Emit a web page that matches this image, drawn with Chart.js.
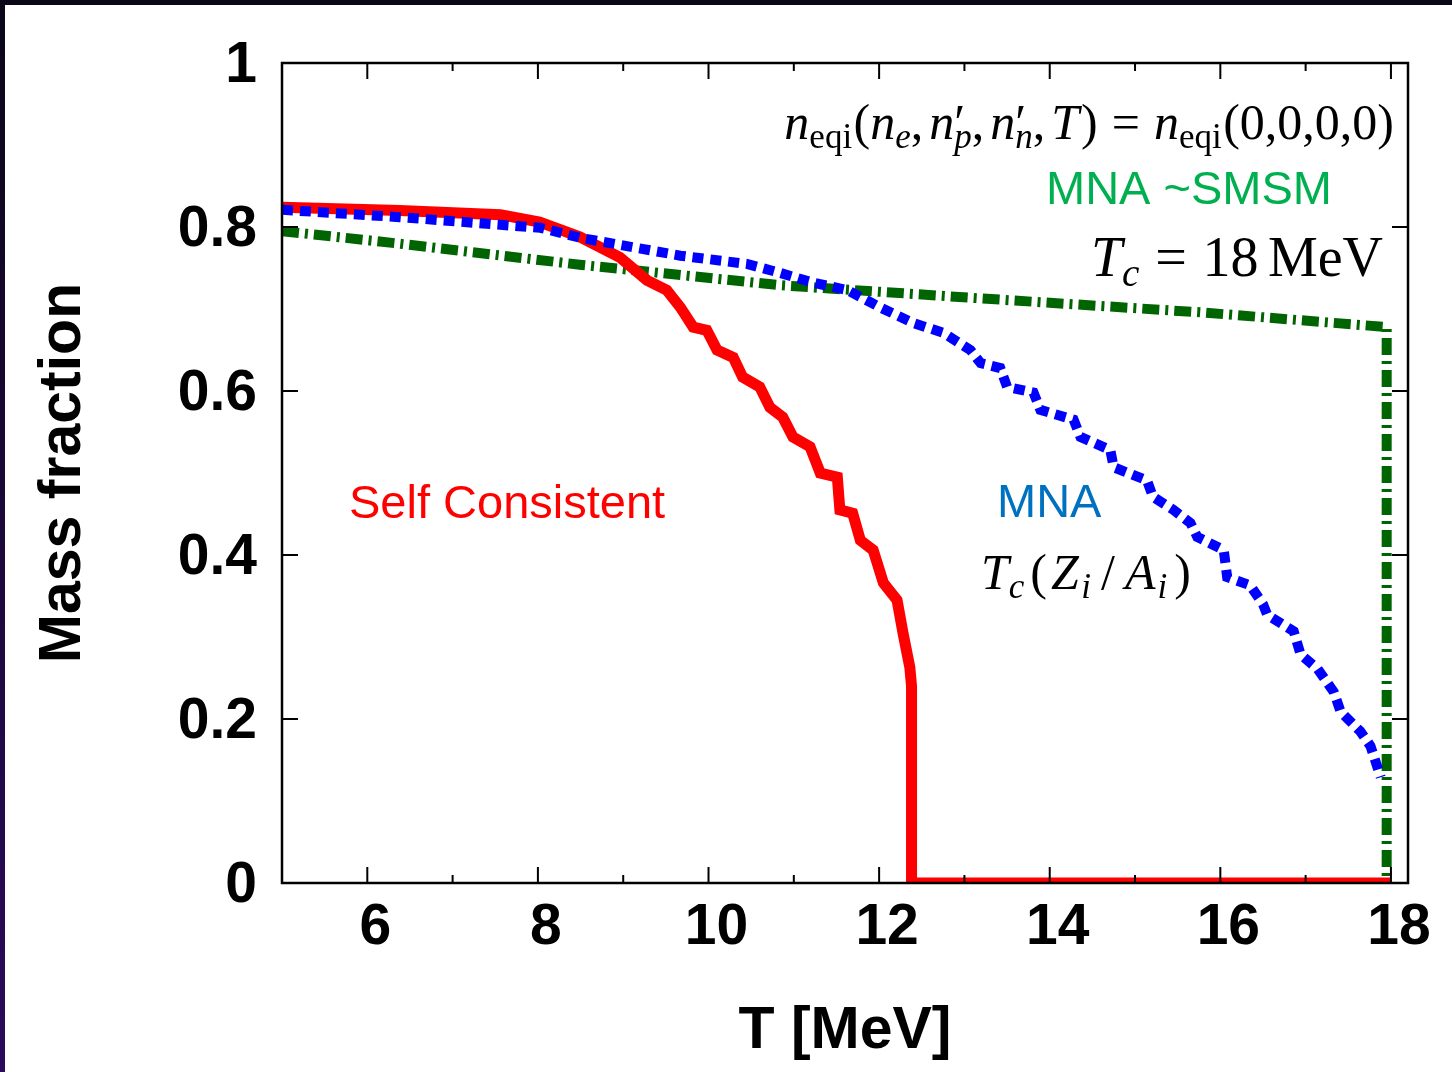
<!DOCTYPE html>
<html>
<head>
<meta charset="utf-8">
<script src="https://cdn.jsdelivr.net/npm/chart.js@4.4.1/dist/chart.umd.min.js"></script>
<style>
  html, body { margin: 0; padding: 0; background: #fff; }
  canvas { display: block; }
</style>
</head>
<body>
<canvas id="massFraction" width="1452" height="1072"></canvas>
<script>
// Self Consistent (red)
const selfT = [5.00, 6.38, 7.56, 8.02, 8.49, 8.96, 9.28, 9.51, 9.67, 9.82, 9.98, 10.10, 10.29, 10.40,
  10.60, 10.72, 10.87, 10.99, 11.19, 11.31, 11.51, 11.54, 11.69, 11.78, 11.93, 12.05, 12.21, 12.28,
  12.36, 12.38, 12.38, 18.00];
const selfY = [0.824, 0.820, 0.815, 0.806, 0.788, 0.763, 0.735, 0.723, 0.702, 0.678, 0.674, 0.650, 0.641, 0.617,
  0.605, 0.580, 0.568, 0.544, 0.532, 0.500, 0.495, 0.455, 0.451, 0.418, 0.406, 0.366, 0.345, 0.305,
  0.263, 0.240, 0, 0];

// MNA, Tc(Zi/Ai) (blue)
const mnaT = [5.00, 6.38, 8.03, 8.49, 9.67, 10.45, 10.84, 11.23, 11.63, 12.01, 12.40, 12.75, 13.07, 13.19,
  13.42, 13.50, 13.81, 13.89, 14.28, 14.36, 14.71, 14.75, 15.14, 15.21, 15.45, 15.65, 15.73, 16.04,
  16.08, 16.35, 16.50, 16.55, 16.86, 16.94, 17.14, 17.33, 17.41, 17.64, 17.76, 17.88];
const mnaY = [0.821, 0.812, 0.799, 0.787, 0.765, 0.755, 0.744, 0.732, 0.723, 0.702, 0.683, 0.671, 0.650, 0.634,
  0.628, 0.605, 0.598, 0.577, 0.565, 0.544, 0.528, 0.507, 0.491, 0.471, 0.455, 0.439, 0.422, 0.406,
  0.373, 0.363, 0.340, 0.327, 0.307, 0.279, 0.261, 0.233, 0.209, 0.185, 0.167, 0.129];

// MNA ~SMSM, Tc = 18 MeV (green)
const smsmT = [5.00, 6.35, 8.49, 10.84, 13.18, 15.76, 17.95, 17.95];
const smsmY = [0.795, 0.780, 0.754, 0.729, 0.713, 0.696, 0.678, 0];

const xTicks = [5, 6, 7, 8, 9, 10, 11, 12, 13, 14, 15, 16, 17, 18];
const yTicks = [0, 0.2, 0.4, 0.6, 0.8, 1];

const SANS = '"Liberation Sans", Arial, Helvetica, sans-serif';
const SERIF = '"Liberation Serif", "Times New Roman", serif';

const toPoints = (xs, ys) => xs.map((v, i) => ({ x: v, y: ys[i] }));

// small math-ish text: [text, kind]; kind = r, i, sub, subi, prime, gap
function mathText(ctx, parts, x, y, size, align) {
  const items = [];
  let w = 0, primeX = null;
  parts.forEach(([t, k]) => {
    if (k === 'gap') { w += t * size; primeX = null; return; }
    const small = k === 'sub' || k === 'subi';
    const s = small ? size * 0.7 : size;
    const font = (k === 'i' || k === 'subi' ? 'italic ' : '') + s + 'px ' + SERIF;
    ctx.font = font;
    const tw = ctx.measureText(t).width;
    const sx = small && primeX !== null ? primeX : w;
    items.push({ t, font, x: sx, dy: small ? size * 0.17 : 0 });
    if (k === 'prime') { primeX = w; w += tw; }
    else { w = Math.max(w, sx + tw); primeX = null; }
  });
  const x0 = align === 'right' ? x - w : x;
  items.forEach(it => { ctx.font = it.font; ctx.fillText(it.t, x0 + it.x, y + it.dy); });
}

const framePlugin = {
  id: 'frame',
  beforeDraw(chart) {
    const { ctx, width, height } = chart;
    ctx.save();
    ctx.fillStyle = '#fff';
    ctx.fillRect(0, 0, width, height);
    const g = ctx.createLinearGradient(0, 0, 0, height);
    g.addColorStop(0, '#0b0618');
    g.addColorStop(1, '#2c0a5c');
    ctx.fillStyle = g;
    ctx.fillRect(0, 0, 5, height);
    ctx.fillStyle = '#0b0618';
    ctx.fillRect(0, 0, width, 5);
    ctx.restore();
  },
  afterDatasetsDraw(chart) {
    const { ctx, chartArea: a, scales: { x, y } } = chart;
    ctx.save();
    ctx.strokeStyle = '#000';
    ctx.lineWidth = 2.5;
    ctx.strokeRect(a.left, a.top, a.right - a.left, a.bottom - a.top);
    ctx.lineWidth = 2;
    ctx.beginPath();
    xTicks.forEach(v => {
      const px = x.getPixelForValue(v);
      const len = v % 2 === 0 ? 16 : 8;
      ctx.moveTo(px, a.bottom); ctx.lineTo(px, a.bottom - len);
      ctx.moveTo(px, a.top); ctx.lineTo(px, a.top + len);
    });
    yTicks.forEach(v => {
      const py = y.getPixelForValue(v);
      ctx.moveTo(a.left, py); ctx.lineTo(a.left + 16, py);
      ctx.moveTo(a.right, py); ctx.lineTo(a.right - 16, py);
    });
    ctx.stroke();
    ctx.restore();
  }
};

const notePlugin = {
  id: 'notes',
  afterDraw(chart) {
    const ctx = chart.ctx;
    ctx.save();
    ctx.textBaseline = 'alphabetic';
    ctx.textAlign = 'left';
    ctx.font = '47px ' + SANS;
    ctx.fillStyle = '#00b050';
    ctx.fillText('MNA ~SMSM', 1046, 204);
    ctx.fillStyle = '#ff0000';
    ctx.fillText('Self Consistent', 349, 518);
    ctx.fillStyle = '#0070c0';
    ctx.fillText('MNA', 997, 517);

    ctx.fillStyle = '#000';
    mathText(ctx, [['n', 'i'], ['eqi', 'sub'], [0.03, 'gap'], ['(', 'r'], ['n', 'i'], ['e', 'subi'], [',', 'r'], [0.12, 'gap'],
      ['n', 'i'], ['\u2032', 'prime'], ['p', 'subi'], [',', 'r'], [0.12, 'gap'], ['n', 'i'], ['\u2032', 'prime'], ['n', 'subi'],
      [',', 'r'], [0.12, 'gap'], ['T', 'i'], [0.04, 'gap'], [')', 'r'], [0.28, 'gap'], ['=', 'r'], [0.28, 'gap'],
      ['n', 'i'], ['eqi', 'sub'], [0.03, 'gap'], ['(0,0,0,0)', 'r']], 1394, 139, 50, 'right');
    mathText(ctx, [['T', 'i'], ['c', 'subi'], [0.28, 'gap'], ['=', 'r'], [0.28, 'gap'], ['18', 'r'],
      [0.17, 'gap'], ['MeV', 'r']], 1383, 276, 56, 'right');
    mathText(ctx, [['T', 'i'], ['c', 'subi'], [0.12, 'gap'], ['(', 'r'], [0.08, 'gap'], ['Z', 'i'], [0.05, 'gap'],
      ['i', 'subi'], [0.2, 'gap'], ['/', 'r'], [0.2, 'gap'], ['A', 'i'], [0.04, 'gap'], ['i', 'subi'], [0.14, 'gap'],
      [')', 'r']], 981, 589, 50, 'left');
    ctx.restore();
  }
};

const tickFont = { family: SANS, size: 57, weight: 'bold', lineHeight: 1 };
const titleFont = { family: SANS, size: 59, weight: 'bold', lineHeight: 1 };

new Chart(document.getElementById('massFraction'), {
  type: 'line',
  data: {
    datasets: [
      {
        label: 'MNA',
        data: toPoints(mnaT, mnaY),
        borderColor: '#0000ff',
        borderWidth: 10,
        borderDash: [11, 7],
        borderCapStyle: 'butt'
      },
      {
        label: 'Self Consistent',
        data: toPoints(selfT, selfY),
        borderColor: '#ff0000',
        borderWidth: 11
      },
      {
        label: 'MNA ~SMSM',
        data: toPoints(smsmT, smsmY),
        borderColor: '#006400',
        borderWidth: 10,
        borderDash: [17, 6, 3, 6],
        borderCapStyle: 'butt'
      }
    ]
  },
  options: {
    responsive: false,
    animation: false,
    devicePixelRatio: 1,
    layout: { padding: { top: 63, right: 44, bottom: 0, left: 0 } },
    elements: {
      point: { radius: 0, hoverRadius: 0 },
      line: { tension: 0, fill: false }
    },
    plugins: {
      legend: { display: false },
      tooltip: { enabled: false }
    },
    scales: {
      x: {
        type: 'linear',
        min: 5,
        max: 18.2,
        afterBuildTicks: s => { s.ticks = xTicks.map(v => ({ value: v })); },
        afterFit: s => { s.height = 189; },
        grid: { display: false, drawTicks: false, tickLength: 0 },
        border: { display: false },
        ticks: {
          font: tickFont,
          color: '#000',
          padding: 17,
          labelOffset: 8,
          maxRotation: 0,
          autoSkip: false,
          callback: v => (v % 2 === 0 ? String(v) : '')
        },
        title: {
          display: true,
          text: 'T [MeV]',
          color: '#000',
          font: titleFont,
          padding: { top: 0, bottom: 11 }
        }
      },
      y: {
        type: 'linear',
        min: 0,
        max: 1,
        afterBuildTicks: s => { s.ticks = yTicks.map(v => ({ value: v })); },
        afterFit: s => { s.width = 282; },
        grid: { display: false, drawTicks: false, tickLength: 0 },
        border: { display: false },
        ticks: {
          font: tickFont,
          color: '#000',
          padding: 25,
          labelOffset: 3,
          autoSkip: false,
          callback: v => String(v)
        },
        title: {
          display: true,
          text: 'Mass fraction',
          color: '#000',
          font: titleFont,
          padding: { top: 34, bottom: 0 }
        }
      }
    }
  },
  plugins: [framePlugin, notePlugin]
});
</script>
</body>
</html>
